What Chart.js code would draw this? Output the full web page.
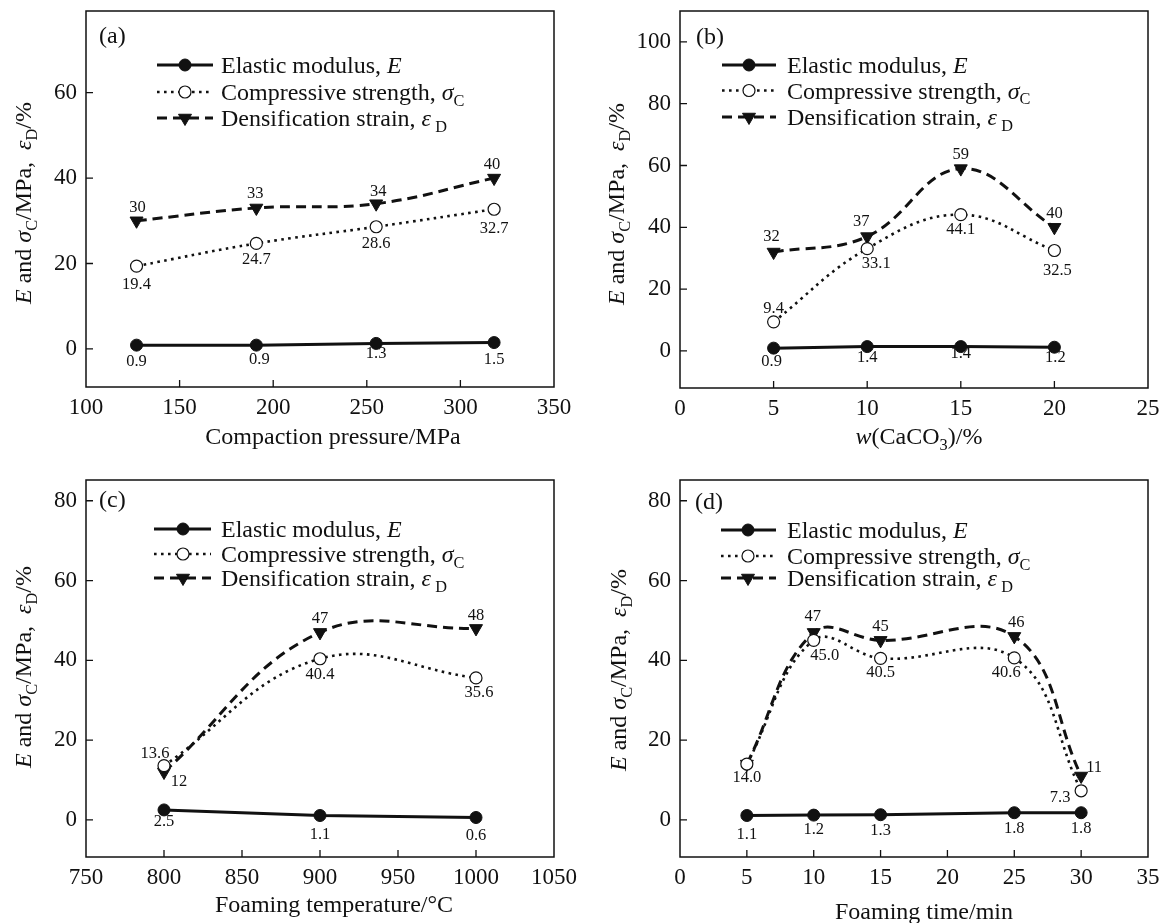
<!DOCTYPE html>
<html><head><meta charset="utf-8">
<script src="https://cdn.jsdelivr.net/npm/chart.js@4.4.1/dist/chart.umd.min.js"></script>
<style>
html,body{margin:0;padding:0;background:#fff;}
#wrap{position:relative;width:1161px;height:923px;overflow:hidden;background:#fff;}
canvas{position:absolute;}
</style></head><body><div id="wrap">
<canvas id="ca" width="580" height="461" style="left:0px;top:0px"></canvas>
<canvas id="cb" width="581" height="461" style="left:580px;top:0px"></canvas>
<canvas id="cc" width="580" height="462" style="left:0px;top:461px"></canvas>
<canvas id="cd" width="581" height="462" style="left:580px;top:461px"></canvas>
</div>
<script>
// ---------- data ----------
const pressureX = [127, 191, 255, 318];
const pressureE = [0.9, 0.9, 1.3, 1.5];
const pressureSigma = [19.4, 24.7, 28.6, 32.7];
const pressureEps = [30, 33, 34, 40];

const caco3X = [5, 10, 15, 20];
const caco3E = [0.9, 1.4, 1.4, 1.2];
const caco3Sigma = [9.4, 33.1, 44.1, 32.5];
const caco3Eps = [32, 37, 59, 40];

const tempX = [800, 900, 1000];
const tempE = [2.5, 1.1, 0.6];
const tempSigma = [13.6, 40.4, 35.6];
const tempEps = [12, 47, 48];

const timeX = [5, 10, 15, 25, 30];
const timeE = [1.1, 1.2, 1.3, 1.8, 1.8];
const timeSigma = [14.0, 45.0, 40.5, 40.6, 7.3];
const timeEps = [14, 47, 45, 46, 11];

const xTicksA = [100, 150, 200, 250, 300, 350];
const xTicksB = [0, 5, 10, 15, 20, 25];
const xTicksC = [750, 800, 850, 900, 950, 1000, 1050];
const xTicksD = [0, 5, 10, 15, 20, 25, 30, 35];
const yTicksA = [0, 20, 40, 60];
const yTicksB = [0, 20, 40, 60, 80, 100];
const yTicksCD = [0, 20, 40, 60, 80];

const seriesNames = ['Elastic modulus, ', 'Compressive strength, ', 'Densification strain, '];

// ---------- styling / helpers ----------
const FONT = '"Liberation Serif", "Times New Roman", serif';
const INK = '#111';
function fontStr(size, italic) { return (italic ? 'italic ' : '') + size + 'px ' + FONT; }
function richWidth(ctx, parts, size) {
  let w = 0;
  for (const p of parts) { ctx.font = fontStr(p.sub ? size * 0.68 : size, p.i); w += ctx.measureText(p.t).width; }
  return w;
}
function drawRich(ctx, parts, x, y, size, align) {
  const w = richWidth(ctx, parts, size);
  let cx = align === 'center' ? x - w / 2 : x;
  ctx.textAlign = 'left'; ctx.textBaseline = 'alphabetic'; ctx.fillStyle = INK;
  for (const p of parts) {
    const s = p.sub ? size * 0.68 : size;
    ctx.font = fontStr(s, p.i);
    ctx.fillText(p.t, cx, y + (p.sub ? size * 0.24 : 0));
    cx += ctx.measureText(p.t).width;
  }
}
const yTitleParts = [{t:'E', i:true},{t:' and '},{t:'\u03C3', i:true},{t:'C', sub:true},{t:'/MPa,  '},{t:'\u03B5', i:true},{t:'D', sub:true},{t:'/%'}];
const legendSuffix = [
  [{t:'E', i:true}],
  [{t:'\u03C3', i:true},{t:'C', sub:true}],
  [{t:'\u03B5', i:true},{t:' D', sub:true}]
];

const styleE = {borderColor: INK, borderWidth: 3, borderDash: [], pointStyle: 'circle', pointRadius: 6, pointBackgroundColor: INK, pointBorderColor: INK, pointBorderWidth: 1, pointRotation: 0, tension: 0};
const styleS = {borderColor: INK, borderWidth: 2.6, borderDash: [2.6, 4.4], pointStyle: 'circle', pointRadius: 6, pointBackgroundColor: '#fff', pointBorderColor: INK, pointBorderWidth: 1.2, pointRotation: 0, tension: 0.4};
const styleD = {borderColor: INK, borderWidth: 3, borderDash: [10, 6], pointStyle: 'triangle', pointRadius: 7.5, pointBackgroundColor: INK, pointBorderColor: INK, pointBorderWidth: 1, pointRotation: 180, tension: 0.4};

const panels = [
  { id: 'ca', off: [0, 0], size: [580, 461], area: {l: 86, r: 554, t: 11, b: 387},
    x: {min: 100, max: 350, ticks: xTicksA}, y: {min: -8.9, max: 79.1, ticks: yTicksA},
    xs: pressureX, E: pressureE, S: pressureSigma, D: pressureEps,
    tag: {t: '(a)', x: 99, y: 37},
    legend: {x1: 157, x2: 213, mx: 185, tx: 221, rows: [65, 92, 118]},
    yTitle: {x: 31, y: 203}, xTitle: {parts: [{t: 'Compaction pressure/MPa'}], x: 333, y: 444},
    offs: {E: [[0,17],[3,15],[0,10],[0,17]], S: [[0,19],[0,16],[0,17],[0,19]], D: [[1,-13],[-1,-14],[2,-12],[-2,-13]]} },
  { id: 'cb', off: [580, 0], size: [581, 461], area: {l: 680, r: 1148, t: 11, b: 388},
    x: {min: 0, max: 25, ticks: xTicksB}, y: {min: -12, max: 110, ticks: yTicksB},
    xs: caco3X, E: caco3E, S: caco3Sigma, D: caco3Eps,
    tag: {t: '(b)', x: 696, y: 38},
    legend: {x1: 722, x2: 776, mx: 749, tx: 787, rows: [65, 90.5, 117]},
    yTitle: {x: 624, y: 204}, xTitle: {parts: [{t: 'w', i: true}, {t: '(CaCO'}, {t: '3', sub: true}, {t: ')/%'}], x: 919, y: 444},
    offs: {E: [[-2,14],[0,11],[0,7],[1,10]], S: [[0,-13],[9,15],[0,15],[3,20]], D: [[-2,-15],[-6,-15],[0,-14],[0,-14]]} },
  { id: 'cc', off: [0, 461], size: [580, 462], area: {l: 86, r: 554, t: 480, b: 857},
    x: {min: 750, max: 1050, ticks: xTicksC}, y: {min: -9.3, max: 85.2, ticks: yTicksCD},
    xs: tempX, E: tempE, S: tempSigma, D: tempEps,
    tag: {t: '(c)', x: 99, y: 501},
    legend: {x1: 154, x2: 211, mx: 183, tx: 221, rows: [529, 554, 578]},
    yTitle: {x: 31, y: 667}, xTitle: {parts: [{t: 'Foaming temperature/\u00B0C'}], x: 334, y: 912},
    offs: {E: [[0,12],[0,19],[0,18]], S: [[-9,-12],[0,16],[3,15]], D: [[15,10],[0,-14],[0,-13]]} },
  { id: 'cd', off: [580, 461], size: [581, 462], area: {l: 680, r: 1148, t: 480, b: 857},
    x: {min: 0, max: 35, ticks: xTicksD}, y: {min: -9.3, max: 85.2, ticks: yTicksCD},
    xs: timeX, E: timeE, S: timeSigma, D: timeEps,
    tag: {t: '(d)', x: 695, y: 503},
    legend: {x1: 721, x2: 776, mx: 748, tx: 787, rows: [530, 556, 578]},
    yTitle: {x: 626, y: 670}, xTitle: {parts: [{t: 'Foaming time/min'}], x: 924, y: 919},
    offs: {E: [[0,19],[0,15],[0,16],[0,16],[0,16]], S: [[0,14],[11,15],[0,14],[-8,15],[-21,7]], D: [null,[-1,-16],[0,-14],[2,-14],[13,-8]]} }
];

const decoPlugin = {
  id: 'deco',
  afterDraw(chart) {
    const P = chart.options.plugins.deco.panel;
    const ctx = chart.ctx;
    const ox = P.off[0], oy = P.off[1];
    const ca = chart.chartArea;
    ctx.save();
    // frame
    ctx.strokeStyle = INK; ctx.lineWidth = 1.5; ctx.setLineDash([]);
    ctx.strokeRect(ca.left, ca.top, ca.right - ca.left, ca.bottom - ca.top);
    // inward ticks
    ctx.lineWidth = 1.3;
    const xs = chart.scales.x, ys = chart.scales.y;
    ctx.beginPath();
    for (const t of xs.ticks) {
      const px = xs.getPixelForValue(t.value);
      if (px > ca.left + 1 && px < ca.right - 1) { ctx.moveTo(px, ca.bottom); ctx.lineTo(px, ca.bottom - 7); }
    }
    for (const t of ys.ticks) {
      const py = ys.getPixelForValue(t.value);
      if (py > ca.top + 1 && py < ca.bottom - 1) { ctx.moveTo(ca.left, py); ctx.lineTo(ca.left + 7, py); }
    }
    ctx.stroke();
    // panel tag
    ctx.fillStyle = INK; ctx.font = fontStr(24, false); ctx.textAlign = 'left'; ctx.textBaseline = 'middle';
    ctx.fillText(P.tag.t, P.tag.x - ox, P.tag.y - oy);
    // axis titles
    drawRich(ctx, P.xTitle.parts, P.xTitle.x - ox, P.xTitle.y - oy, 24, 'center');
    ctx.save();
    ctx.translate(P.yTitle.x - ox, P.yTitle.y - oy);
    ctx.rotate(-Math.PI / 2);
    drawRich(ctx, yTitleParts, 0, 0, 24, 'center');
    ctx.restore();
    // legend
    const lg = P.legend;
    const legStyles = [styleE, styleS, styleD];
    for (let k = 0; k < 3; k++) {
      const st = legStyles[k];
      const ry = lg.rows[k] - oy;
      ctx.strokeStyle = INK; ctx.lineWidth = st.borderWidth; ctx.setLineDash(st.borderDash);
      ctx.beginPath(); ctx.moveTo(lg.x1 - ox, ry); ctx.lineTo(lg.x2 - ox, ry); ctx.stroke();
      ctx.setLineDash([]);
      ctx.fillStyle = st.pointBackgroundColor; ctx.strokeStyle = st.pointBorderColor; ctx.lineWidth = st.pointBorderWidth;
      Chart.helpers.drawPoint(ctx, {pointStyle: st.pointStyle, radius: st.pointRadius, rotation: st.pointRotation, borderWidth: st.pointBorderWidth}, lg.mx - ox, ry);
      drawRich(ctx, [{t: seriesNames[k]}].concat(legendSuffix[k]), lg.tx - ox, ry + 8, 24, 'left');
    }
    // data labels
    ctx.fillStyle = INK; ctx.font = fontStr(16.5, false); ctx.textAlign = 'center'; ctx.textBaseline = 'middle';
    chart.data.datasets.forEach((ds, di) => {
      const meta = chart.getDatasetMeta(di);
      const offs = P.offs[ds.key];
      meta.data.forEach((el, i) => {
        const o = offs[i];
        if (!o) return;
        const v = ds.data[i].y;
        const txt = ds.key === 'D' ? String(Math.round(v)) : v.toFixed(1);
        ctx.fillText(txt, el.x + o[0], el.y + o[1]);
      });
    });
    ctx.restore();
  }
};

function makeChart(P) {
  const W = P.size[0], H = P.size[1];
  const L = P.area.l - P.off[0], R = P.area.r - P.off[0], T = P.area.t - P.off[1], B = P.area.b - P.off[1];
  const mk = (arr, key, st) => Object.assign({key: key, data: P.xs.map((x, i) => ({x: x, y: arr[i]})), fill: false, borderCapStyle: 'butt'}, st);
  const tickFont = {family: FONT, size: 23};
  new Chart(document.getElementById(P.id), {
    type: 'line',
    data: {datasets: [mk(P.S, 'S', styleS), mk(P.D, 'D', styleD), mk(P.E, 'E', styleE)]},
    options: {
      responsive: false, animation: false, devicePixelRatio: 1, events: [],
      layout: {padding: {left: 0, top: T, right: W - R, bottom: 0}},
      plugins: {legend: {display: false}, tooltip: {enabled: false}, deco: {panel: P}},
      scales: {
        x: {type: 'linear', min: P.x.min, max: P.x.max,
            afterBuildTicks: s => { s.ticks = P.x.ticks.map(v => ({value: v})); },
            afterFit: s => { s.height = H - B; s.paddingLeft = 0; s.paddingRight = 0; },
            grid: {display: false, drawTicks: false}, border: {display: false},
            ticks: {color: INK, font: tickFont, padding: 7, maxRotation: 0, autoSkip: false, callback: v => String(v)}},
        y: {type: 'linear', min: P.y.min, max: P.y.max,
            afterBuildTicks: s => { s.ticks = P.y.ticks.map(v => ({value: v})); },
            afterFit: s => { s.width = L; s.paddingTop = 0; s.paddingBottom = 0; },
            grid: {display: false, drawTicks: false}, border: {display: false},
            ticks: {color: INK, font: tickFont, padding: 9, autoSkip: false, callback: v => String(v)}}
      }
    },
    plugins: [decoPlugin]
  });
}
panels.forEach(makeChart);
</script>
</body></html>
